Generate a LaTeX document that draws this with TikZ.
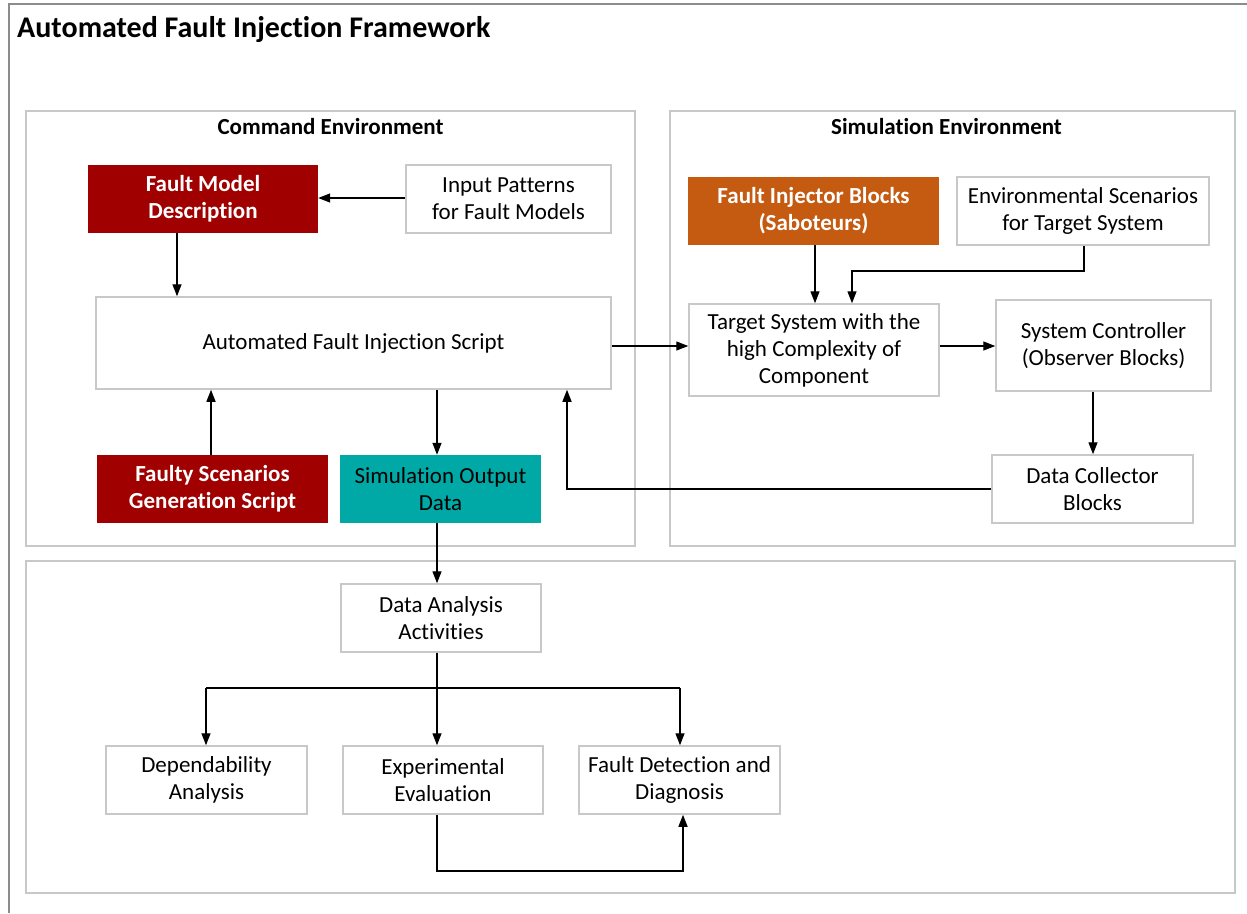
\documentclass[tikz,border=0pt]{standalone}
\usepackage{fontspec}
\setmainfont{Carlito}[Ligatures={NoCommon,NoContextual}, RawFeature={-liga;-clig;-calt;-dlig}]
\usetikzlibrary{arrows.meta,positioning}
\definecolor{frameGray}{HTML}{8C8C8C}
\definecolor{boxGray}{HTML}{C8C8C8}
\definecolor{faultRed}{HTML}{A00000}
\definecolor{injOrange}{HTML}{C55A11}
\definecolor{dataTeal}{HTML}{00A9A5}
\begin{document}
\begin{tikzpicture}[x=1pt,y=-1pt,
  every node/.style={font=\fontsize{23}{27}\selectfont, inner sep=0pt, align=center},
  env/.style={draw=boxGray, line width=1.5pt},
  block/.style={draw=boxGray, line width=1.5pt, fill=white, minimum height=68pt},
  redblock/.style={fill=faultRed, text=white, font=\fontsize{23}{27}\selectfont\bfseries, minimum height=68pt},
  orangeblock/.style={fill=injOrange, text=white, font=\fontsize{23}{27}\selectfont\bfseries, minimum height=68pt},
  tealblock/.style={fill=dataTeal, text=black, minimum height=68pt},
  arr/.style={line width=1.4pt, -{Triangle[length=12pt,width=9pt]}},
  wire/.style={line width=1.4pt}]
\useasboundingbox (0,0) rectangle (1247,913);

% outer frame and heading
\draw[frameGray, line width=1.5pt] (1247,4) -- (9,4) -- (9,913);
\node[anchor=west, font=\fontsize{30}{36}\selectfont\bfseries] (heading) at (17,30) {Automated Fault Injection Framework};

% environment panels
\draw[env] (26,111) rectangle (635,546);
\draw[env] (670,111) rectangle (1235,546);
\draw[env] (26,561) rectangle (1235,893);
\node[font=\fontsize{23}{27}\selectfont\bfseries] (cmdtitle) at (330.5,127) {Command Environment};
\node[font=\fontsize{23}{27}\selectfont\bfseries] (simtitle) at (946.5,127) {Simulation Environment};

% command environment blocks
\node[redblock, minimum width=230pt] (fmd) at (203,199) {Fault Model\\Description};
\node[block, minimum width=205pt] (inp) at (508.5,199) {Input Patterns\\for Fault Models};
\node[block, minimum width=515pt, minimum height=92pt] (afis) at (353.5,343) {Automated Fault Injection Script};
\node[redblock, minimum width=231pt] (fsg) at (212.5,489) {Faulty Scenarios\\Generation Script};
\node[tealblock, minimum width=201pt] (sod) at (440.5,489) {Simulation Output\\Data};

% simulation environment blocks
\node[orangeblock, minimum width=251pt] (fib) at (813.5,211) {Fault Injector Blocks\\(Saboteurs)};
\node[block, minimum width=252pt] (envs) at (1083,211) {Environmental Scenarios\\for Target System};
\node[block, minimum width=250pt, minimum height=92pt] (tgt) at (814,350) {Target System with the\\high Complexity of\\Component};
\node[block, minimum width=215pt, minimum height=91pt] (sc) at (1103.5,345.5) {System Controller\\(Observer Blocks)};
\node[block, minimum width=201pt] (dc) at (1092.5,489) {Data Collector\\Blocks};

% analysis blocks
\node[block, minimum width=200pt] (da) at (441,618) {Data Analysis\\Activities};
\node[block, minimum width=201pt] (dep) at (206.5,780) {Dependability\\Analysis};
\node[block, minimum width=200pt] (exp) at (443,780) {Experimental\\Evaluation};
\node[block, minimum width=201pt] (fdd) at (679.5,780) {Fault Detection and\\Diagnosis};

% routing columns and rows
\coordinate (xa) at (177,0);
\coordinate (xb) at (211,0);
\coordinate (xc) at (437,0);
\coordinate (xd) at (567,0);
\coordinate (xe) at (815,0);
\coordinate (xf) at (852,0);
\coordinate (xg) at (1084,0);
\coordinate (xh) at (1093,0);
\coordinate (xi) at (206,0);
\coordinate (xj) at (680,0);
\coordinate (xk) at (683,0);
\coordinate (ya) at (0,346);
\coordinate (yb) at (0,198);
\coordinate (yc) at (0,271);
\coordinate (yd) at (0,688);
\coordinate (ye) at (0,871);

% connectors
\draw[arr] (inp.west |- yb) -- (fmd.east |- yb);
\draw[arr] (fmd.south -| xa) -- (afis.north -| xa);
\draw[arr] (fsg.north -| xb) -- (afis.south -| xb);
\draw[arr] (afis.south -| xc) -- (sod.north -| xc);
\draw[arr] (sod.south -| xc) -- (da.north -| xc);
\draw[arr] (afis.east |- ya) -- (tgt.west |- ya);
\draw[arr] (fib.south -| xe) -- (tgt.north -| xe);
\draw[arr] (envs.south -| xg) -- (xg |- yc) -- (xf |- yc) -- (tgt.north -| xf);
\draw[arr] (tgt.east |- ya) -- (sc.west |- ya);
\draw[arr] (sc.south -| xh) -- (dc.north -| xh);
\draw[arr] (dc.west) -- (xd |- dc.west) -- (afis.south -| xd);
\draw[wire] (da.south -| xc) -- (xc |- yd);
\draw[wire] (xi |- yd) -- (xj |- yd);
\draw[arr] (xi |- yd) -- (dep.north -| xi);
\draw[arr] (xc |- yd) -- (exp.north -| xc);
\draw[arr] (xj |- yd) -- (fdd.north -| xj);
\draw[arr] (exp.south -| xc) -- (xc |- ye) -- (xk |- ye) -- (fdd.south -| xk);
\end{tikzpicture}
\end{document}
